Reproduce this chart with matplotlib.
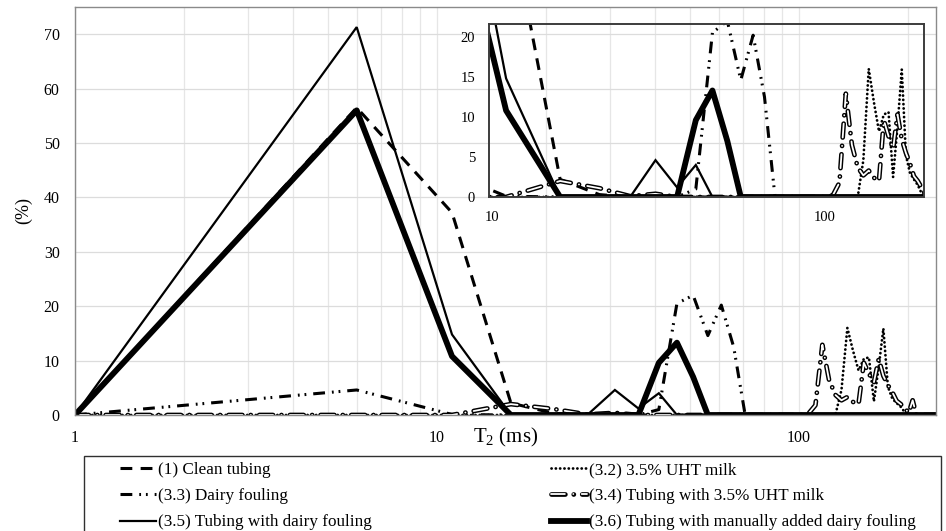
import matplotlib
matplotlib.use("Agg")
import matplotlib.pyplot as plt
import matplotlib.patheffects as pe
from matplotlib.ticker import LogLocator, FixedLocator, NullFormatter
from matplotlib.lines import Line2D
from matplotlib.patches import Rectangle

plt.rcParams['font.family'] = ['Liberation Serif', 'DejaVu Serif']
plt.rcParams['mathtext.fontset'] = 'custom'
plt.rcParams['mathtext.rm'] = 'Liberation Serif'
plt.rcParams['mathtext.it'] = 'Liberation Serif:italic'
plt.rcParams['lines.scale_dashes'] = False

# T2 relaxation times (ms)
t2 = [1, 6, 11, 16, 21, 26, 31, 36, 41, 46, 51, 56, 61, 66, 71, 76, 81, 86, 91, 96,
      101, 106, 111, 116, 121, 126, 131, 136, 141, 146, 151, 156, 161, 166, 171, 176,
      181, 186, 191, 196, 201, 206, 211, 216, 221, 226, 231, 236, 241]

# Signal fraction (%) per sample
clean_tubing = [0, 56.5, 37.2, 2.2, 0.3, 0, 0, 0, 0, 0, 0, 0, 0, 0, 0, 0, 0, 0, 0, 0,
                0, 0, 0, 0, 0, 0, 0, 0, 0, 0, 0, 0, 0, 0, 0, 0,
                0, 0, 0, 0, 0, 0, 0, 0, 0, 0, 0, 0, 0]
uht_milk = [0, 0, 0, 0, 0, 0, 0, 0, 0, 0, 0, 0, 0, 0, 0, 0, 0, 0, 0, 0,
            0, 0, 0, 0, 0, 0, 4.6, 16.0, 11.8, 8.2, 10.3, 10.6, 2.5, 8.8, 15.9, 5.2,
            3.0, 2.2, 1.5, 0.5, 0, 0, 0, 0, 0, 0, 0, 0, 0]
dairy_fouling = [0, 4.6, 0.1, 0, 0, 0, 0, 0, 1.0, 20.5, 22.0, 14.6, 20.2, 12.5, 0, 0, 0, 0, 0, 0,
                 0, 0, 0, 0, 0, 0, 0, 0, 0, 0, 0, 0, 0, 0, 0, 0,
                 0, 0, 0, 0, 0, 0, 0, 0, 0, 0, 0, 0, 0]
tubing_uht = [0, 0, 0, 2.0, 1.1, 0.1, 0.4, 0, 0, 0, 0, 0, 0, 0, 0, 0, 0, 0, 0, 0,
              0, 0.2, 1.8, 12.9, 6.5, 3.7, 2.7, 3.3, 2.4, 2.0, 9.6, 7.6, 6.0, 10.3, 7.2, 5.5,
              4.2, 2.6, 2.0, 1.2, 0.4, 2.7, 0, 0, 0, 0, 0, 0, 0]
tubing_fouling = [0, 71.3, 14.8, 0, 0, 0, 4.6, 1.2, 4.0, 0, 0, 0, 0, 0, 0, 0, 0, 0, 0, 0,
                  0, 0, 0, 0, 0, 0, 0, 0, 0, 0, 0, 0, 0, 0, 0, 0,
                  0, 0, 0, 0, 0, 0, 0, 0, 0, 0, 0, 0, 0]
tubing_manual = [0, 56.0, 10.8, 0, 0, 0, 0, 0, 9.6, 13.3, 7.0, 0, 0, 0, 0, 0, 0, 0, 0, 0,
                 0, 0, 0, 0, 0, 0, 0, 0, 0, 0, 0, 0, 0, 0, 0, 0,
                 0, 0, 0, 0, 0, 0, 0, 0, 0, 0, 0, 0, 0]

labels = ['(1) Clean tubing', '(3.2) 3.5% UHT milk', '(3.3) Dairy fouling',
          '(3.4) Tubing with 3.5% UHT milk', '(3.5) Tubing with dairy fouling',
          '(3.6) Tubing with manually added dairy fouling']

STYLE_CLEAN = dict(color='black', lw=2.2, dashes=(8.5, 6), dash_capstyle='butt')
STYLE_UHT = dict(color='black', lw=2.0, dashes=(0.1, 3.0), dash_capstyle='round')
STYLE_DAIRY = dict(color='black', lw=2.2, dashes=(8.5, 5, 1.3, 3.5, 1.3, 5),
                   dash_capstyle='butt')
# double (hollow) line: white core with a black stroke around it
STYLE_HOLLOW = dict(color='white', lw=1.3, dashes=(10, 6, 0.1, 6),
                    dash_capstyle='round',
                    path_effects=[pe.Stroke(linewidth=3.4, foreground='black'),
                                  pe.Normal()])
STYLE_THIN = dict(color='black', lw=1.6, solid_joinstyle='miter')
STYLE_THICK = dict(color='black', lw=4.2, solid_joinstyle='round')


def draw_series(ax):
    ax.plot(t2, clean_tubing, **STYLE_CLEAN)
    ax.plot(t2, uht_milk, **STYLE_UHT)
    ax.plot(t2, dairy_fouling, **STYLE_DAIRY)
    ax.plot(t2, tubing_uht, **STYLE_HOLLOW)
    ax.plot(t2, tubing_fouling, **STYLE_THIN)
    ax.plot(t2, tubing_manual, **STYLE_THICK)


W, H = 946, 531
fig = plt.figure(figsize=(W / 100, H / 100), dpi=100)

# main axes
ax = fig.add_axes([75 / W, 1 - 415 / H, (936 - 75) / W, (415 - 7) / H])
draw_series(ax)
ax.set_xscale('log')
ax.set_xlim(1, 239)
ax.set_ylim(0, 75)
ax.set_yticks(range(0, 71, 10))
ax.xaxis.set_major_locator(FixedLocator([1, 10, 100]))
ax.set_xticklabels(['1', '10', '100'])
ax.xaxis.set_minor_locator(LogLocator(base=10, subs=[2, 3, 4, 5, 6, 7, 8, 9]))
ax.xaxis.set_minor_formatter(NullFormatter())
ax.set_axisbelow(True)
ax.grid(which='major', axis='y', color='#dcdcdc', lw=0.9)
ax.grid(which='both', axis='x', color='#e6e6e6', lw=0.9)
ax.tick_params(which='both', length=0, pad=11, labelsize=11.5)
for s in ax.spines.values():
    s.set_color('#8a8a8a')
    s.set_linewidth(1.0)
ax.set_xlabel(r'T$_2$ (ms)', fontsize=15)
ax.xaxis.set_label_coords(0.5, -0.026)
ax.set_ylabel('(%)', fontsize=13)
ax.yaxis.set_label_coords(-0.05, 0.5)

# zoomed inset
axi = fig.add_axes([489 / W, 1 - 197 / H, (924 - 489) / W, (197 - 24) / H])
axi.set_facecolor('none')
draw_series(axi)
axi.set_xscale('log')
axi.set_xlim(9.77, 199.5)
axi.set_ylim(0, 21.6)
axi.set_yticks([0, 5, 10, 15, 20])
axi.xaxis.set_major_locator(FixedLocator([10, 100]))
axi.set_xticklabels(['10', '100'])
axi.xaxis.set_minor_locator(FixedLocator([]))
axi.tick_params(which='both', length=0, pad=10, labelsize=10.5)
for s in axi.spines.values():
    s.set_color('#3c3c3c')
    s.set_linewidth(1.4)

# legend box below the plot (its lower edge runs past the figure)
fig.add_artist(Rectangle((83.5 / W, -0.05), (941 - 83.5) / W, 0.05 + (531 - 456) / H,
                         transform=fig.transFigure, facecolor='white',
                         edgecolor='#303030', lw=1.0, zorder=0))

h_clean = Line2D([], [], **STYLE_CLEAN)
h_uht = Line2D([], [], **STYLE_UHT)
h_dairy = Line2D([], [], **STYLE_DAIRY)
h_hollow = Line2D([], [], **STYLE_HOLLOW)
h_thin = Line2D([], [], **STYLE_THIN)
h_thick = Line2D([], [], **STYLE_THICK)

leg_kw = dict(loc='upper left', fontsize=12.3, frameon=False, borderpad=0,
              borderaxespad=0, labelspacing=0.6, handlelength=2.1, handletextpad=0.12)
leg1 = fig.legend([h_clean, h_dairy, h_thin], [labels[0], labels[2], labels[4]],
                  bbox_to_anchor=(120 / W, 1 - 462 / H), **leg_kw)
leg2 = fig.legend([h_uht, h_hollow, h_thick], [labels[1], labels[3], labels[5]],
                  bbox_to_anchor=(551 / W, 1 - 462 / H), **leg_kw)

fig.savefig('out.png', dpi=100)
